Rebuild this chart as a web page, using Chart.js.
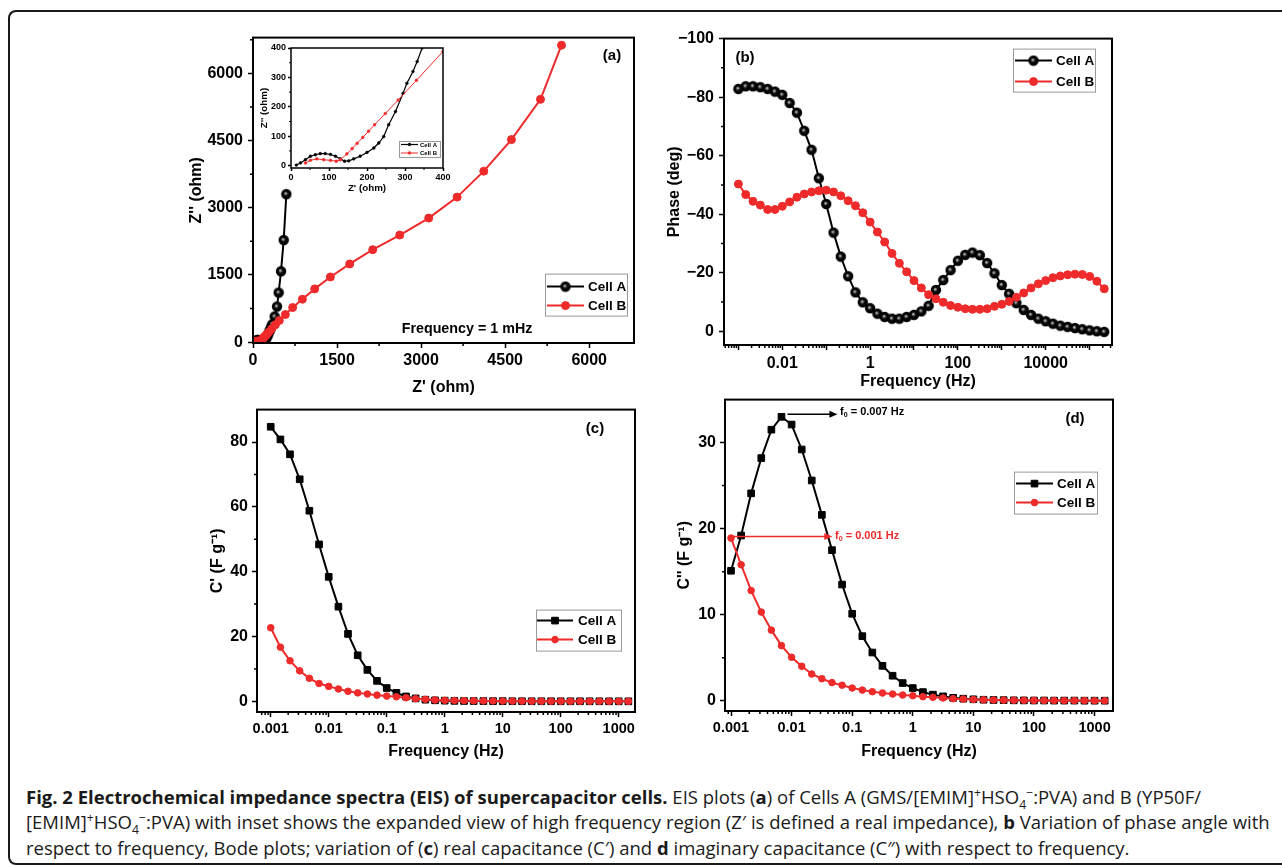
<!DOCTYPE html>
<html>
<head>
<meta charset="utf-8">
<script src="https://cdn.jsdelivr.net/npm/chart.js@4.4.1/dist/chart.umd.min.js"></script>
<style>
html, body { margin: 0; padding: 0; background: #fff; width: 1282px; height: 866px; overflow: hidden; }
canvas { position: absolute; }
#frame { position: absolute; left: 8px; top: 10px; width: 1300px; height: 851px; border: 2px solid #1a1a1a; border-right: none; border-radius: 8px 0 0 8px; }
.cap { position: absolute; left: 26px; font-family: 'Open Sans', sans-serif; font-size: 18.5px; line-height: 22px; white-space: nowrap; color: #1a1a1a; }
.cap sup, .cap sub { font-size: 0.66em; line-height: 0; }
</style>
</head>
<body>
<div id="frame"></div>
<canvas id="panelA"></canvas>
<canvas id="inset"></canvas>
<canvas id="panelB"></canvas>
<canvas id="panelC"></canvas>
<canvas id="panelD"></canvas>
<div class="cap" style="top:786px"><b>Fig. 2 Electrochemical impedance spectra (EIS) of supercapacitor cells.</b> EIS plots (<b>a</b>) of Cells A (GMS/[EMIM]<sup>+</sup>HSO<sub>4</sub><sup>−</sup>:PVA) and B (YP50F/</div>
<div class="cap" style="top:811px">[EMIM]<sup>+</sup>HSO<sub>4</sub><sup>−</sup>:PVA) with inset shows the expanded view of high frequency region (Z′ is defined a real impedance), <b>b</b> Variation of phase angle with</div>
<div class="cap" style="top:837px">respect to frequency, Bode plots; variation of (<b>c</b>) real capacitance (C′) and <b>d</b> imaginary capacitance (C″) with respect to frequency.</div>
<script>
/* global Chart */
// Nyquist data (ohm)
const zReA = [14, 25, 38, 51, 64, 77, 90, 104, 117, 130, 141, 152, 165, 182, 200, 218, 231, 244, 257, 275, 295, 305, 321, 332, 345, 387, 429, 458, 500, 548, 595]
const zImA = [2, 9, 20, 32, 37, 41, 41, 38, 32, 23, 15, 16, 23, 32, 45, 60, 77, 99, 139, 184, 246, 280, 320, 354, 400, 572, 795, 1106, 1582, 2280, 3304]
const zReB = [38, 51, 68, 86, 104, 119, 130, 147, 161, 174, 189, 204, 220, 248, 282, 330, 400, 470, 577, 708, 881, 1101, 1381, 1726, 2137, 2619, 3137, 3643, 4119, 4613, 5131, 5506]
const zImB = [9, 18, 23, 20, 18, 15, 20, 40, 58, 76, 96, 117, 139, 177, 223, 290, 388, 483, 616, 772, 958, 1188, 1455, 1745, 2064, 2391, 2770, 3238, 3817, 4522, 5421, 6631]

// frequency (Hz)
const freq = [0.001, 0.00147, 0.00215, 0.00316, 0.00464, 0.00681, 0.01, 0.0147, 0.0215, 0.0316, 0.0464, 0.0681,
  0.1, 0.147, 0.215, 0.316, 0.464, 0.681, 1, 1.47, 2.15, 3.16, 4.64, 6.81, 10, 14.7, 21.5, 31.6, 46.4, 68.1,
  100, 147, 215, 316, 464, 681, 1000, 1468, 2154, 3162, 4642, 6813, 10000, 14678, 21544, 31623, 46416, 68129,
  100000, 146780, 215443]

// phase (deg)
const phaseA = [-82.8, -83.7, -83.7, -83.4, -82.8, -81.9, -80.8, -78, -74.7, -68.5, -62, -52.3, -43.5, -33.7, -25.5,
  -18.8, -13.3, -9.9, -7.9, -6, -4.9, -4.3, -4.3, -4.9, -5.6, -6.8, -8.7, -14.1, -17.5, -20.9, -24.1, -26.1, -26.9,
  -26, -23.3, -19.8, -15.8, -12.8, -9.6, -7.3, -5.6, -4.3, -3.4, -2.6, -1.9, -1.5, -1.1, -0.7, -0.3, 0, 0.2]
const phaseB = [-50.3, -46.7, -44.4, -43.1, -41.6, -41.6, -42.7, -44.2, -45.8, -46.9, -47.6, -48.0, -48.2, -47.6, -46.3,
  -44.6, -42.9, -40.5, -37.3, -33.9, -30.5, -26.6, -23.2, -20.3, -17.3, -14.8, -12.5, -11.1, -9.9, -8.8, -8.2, -7.7,
  -7.5, -7.5, -7.7, -8.5, -9.2, -10.2, -11.6, -13.1, -14.8, -16.2, -17.3, -18.3, -18.9, -19.3, -19.5, -19.4, -18.7,
  -17.1, -14.5]

// capacitance (F/g), first 38 frequencies
const realCapA = [84.7, 80.8, 76.2, 68.5, 58.8, 48.4, 38.4, 29.2, 20.8, 14.2, 9.7, 6.3, 4.1, 2.6, 1.5, 0.9, 0.5,
  0.3, 0.2, 0.15, 0.1, 0.08, 0.06, 0.05, 0.04, 0.03, 0.03, 0.02, 0.02, 0.02, 0.01, 0.01, 0.01, 0.01, 0.01, 0, 0, 0]
const realCapB = [22.7, 16.7, 12.5, 9.4, 7.1, 5.5, 4.6, 3.8, 3.1, 2.6, 2.25, 1.9, 1.6, 1.4, 1.1, 0.8, 0.6, 0.4,
  0.3, 0.25, 0.2, 0.15, 0.12, 0.1, 0.08, 0.07, 0.06, 0.05, 0.04, 0.03, 0.03, 0.02, 0.02, 0.02, 0.01, 0.01, 0.01, 0.01]
const imagCapA = [15.1, 19.2, 24.1, 28.2, 31.5, 33.0, 32.1, 29.2, 25.6, 21.6, 17.5, 13.5, 10.1, 7.5, 5.6, 4.05, 2.9,
  2.05, 1.47, 1.0, 0.7, 0.5, 0.33, 0.23, 0.16, 0.11, 0.08, 0.06, 0.04, 0.03, 0.02, 0.02, 0.01, 0.01, 0.01, 0, 0, 0]
const imagCapB = [18.9, 15.8, 12.8, 10.3, 8.2, 6.4, 5.05, 4.0, 3.1, 2.55, 2.1, 1.8, 1.47, 1.23, 1.04, 0.89, 0.77, 0.66,
  0.58, 0.46, 0.39, 0.31, 0.23, 0.18, 0.14, 0.1, 0.08, 0.06, 0.05, 0.04, 0.03, 0.02, 0.02, 0.01, 0.01, 0.01, 0, 0]

// tick labels
const zTicks = [0, 1500, 3000, 4500, 6000]
const insetTicks = [0, 100, 200, 300, 400]
const phaseTicks = [-100, -80, -60, -40, -20, 0]
const phaseFreqTicks = [0.001, 0.01, 0.1, 1, 10, 100, 1000, 10000, 100000]
const phaseFreqLabels = [0.01, 1, 100, 10000]
const capFreqTicks = [0.001, 0.01, 0.1, 1, 10, 100, 1000]
const realCapTicks = [0, 20, 40, 60, 80]
const imagCapTicks = [0, 10, 20, 30]

const FONT = "'Liberation Sans', Arial, sans-serif"
Chart.defaults.font.family = FONT
Chart.defaults.color = '#000'
const RED = '#ee2a2a'
const PAD_T = 12
const PAD_R = 16

// black shaded ball marker
function ball (r) {
  const c = document.createElement('canvas')
  const s = Math.ceil(r * 2 + 2)
  c.width = c.height = s
  const g = c.getContext('2d')
  const m = s / 2
  const grad = g.createRadialGradient(m - r * 0.2, m - r * 0.2, 0, m, m, r)
  grad.addColorStop(0, '#f2f2f2')
  grad.addColorStop(0.22, '#7a7a7a')
  grad.addColorStop(0.5, '#0a0a0a')
  grad.addColorStop(1, '#000000')
  g.fillStyle = grad
  g.beginPath()
  g.arc(m, m, r, 0, Math.PI * 2)
  g.fill()
  g.lineWidth = 1.2
  g.strokeStyle = '#000'
  g.stroke()
  return c
}

function minorLog (min, max) {
  const out = []
  for (let k = -5; k <= 6; k++) {
    for (let m = 2; m <= 9; m++) {
      const v = m * Math.pow(10, k)
      if (v > min && v < max) out.push(v)
    }
  }
  return out
}

const deco = {
  id: 'deco',
  afterDraw (chart, args, o) {
    if (!o || !o.on) return
    const { ctx, chartArea: a } = chart
    const xs = chart.scales.x
    const ys = chart.scales.y
    ctx.save()
    // box
    ctx.strokeStyle = '#000'
    ctx.lineWidth = o.frame
    ctx.strokeRect(a.left, a.top, a.right - a.left, a.bottom - a.top)
    // minor ticks
    ctx.lineWidth = o.tickW
    ctx.beginPath()
    o.minorX.forEach(v => {
      const p = xs.getPixelForValue(v)
      if (p > a.left + 1 && p < a.right - 1) { ctx.moveTo(p, a.bottom); ctx.lineTo(p, a.bottom + o.minorLen) }
    })
    o.minorY.forEach(v => {
      const p = ys.getPixelForValue(v)
      if (p > a.top + 1 && p < a.bottom - 1) { ctx.moveTo(a.left, p); ctx.lineTo(a.left - o.minorLen, p) }
    })
    ctx.stroke()
    // arrows
    o.arrows.forEach(ar => {
      const x1 = xs.getPixelForValue(ar.x0) + ar.dx
      const y1 = ys.getPixelForValue(ar.y0)
      const x2 = xs.getPixelForValue(ar.x1)
      ctx.strokeStyle = ar.color
      ctx.fillStyle = ar.color
      ctx.lineWidth = 1.5
      ctx.beginPath()
      ctx.moveTo(x1, y1)
      ctx.lineTo(x2 - 4, y1)
      ctx.stroke()
      ctx.beginPath()
      ctx.moveTo(x2, y1)
      ctx.lineTo(x2 - 8, y1 - 3.5)
      ctx.lineTo(x2 - 8, y1 + 3.5)
      ctx.closePath()
      ctx.fill()
    })
    // texts
    o.texts.forEach(t => {
      ctx.fillStyle = t.color
      ctx.textBaseline = 'middle'
      ctx.textAlign = t.align
      let x = a.left + t.x
      const y = a.top + t.y
      if (t.sub) {
        ctx.textAlign = 'left'
        ctx.font = 'bold ' + t.size + 'px ' + FONT
        ctx.fillText(t.t, x, y)
        x += ctx.measureText(t.t).width
        ctx.font = 'bold ' + (t.size * 0.65) + 'px ' + FONT
        ctx.fillText(t.sub, x, y + t.size * 0.3)
        x += ctx.measureText(t.sub).width
        ctx.font = 'bold ' + t.size + 'px ' + FONT
        ctx.fillText(t.rest, x, y)
      } else {
        ctx.font = 'bold ' + t.size + 'px ' + FONT
        ctx.fillText(t.t, x, y)
      }
    })
    // legend
    const L = o.legend
    const x0 = a.left + L.x
    const y0 = a.top + L.y
    ctx.lineWidth = 1
    ctx.strokeStyle = '#9a9a9a'
    ctx.strokeRect(x0 + 0.5, y0 + 0.5, L.w, L.h)
    chart.data.datasets.forEach((ds, i) => {
      const yy = y0 + L.rows[i]
      ctx.strokeStyle = ds.borderColor
      ctx.lineWidth = ds.borderWidth
      ctx.beginPath()
      ctx.moveTo(x0 + L.l0, yy)
      ctx.lineTo(x0 + L.l1, yy)
      ctx.stroke()
      ctx.fillStyle = ds.pointBackgroundColor
      ctx.strokeStyle = ds.pointBorderColor
      ctx.lineWidth = ds.pointBorderWidth
      Chart.helpers.drawPoint(ctx, { pointStyle: ds.pointStyle, radius: ds.pointRadius, rotation: 0, borderWidth: ds.pointBorderWidth },
        x0 + (L.l0 + L.l1) / 2, yy)
      ctx.fillStyle = '#000'
      ctx.font = 'bold ' + L.size + 'px ' + FONT
      ctx.textAlign = 'left'
      ctx.textBaseline = 'middle'
      ctx.fillText(ds.label, x0 + L.tx, yy + 0.5)
    })
    ctx.restore()
  }
}
Chart.register(deco)

function axis (o) {
  return {
    type: o.type || 'linear',
    min: o.min,
    max: o.max,
    reverse: !!o.reverse,
    afterBuildTicks: s => { s.ticks = o.ticks.map(v => ({ value: v })) },
    afterFit: s => { if (s.isHorizontal()) s.height = o.size; else s.width = o.size },
    border: { display: false },
    grid: { display: true, drawOnChartArea: false, drawTicks: true, tickLength: o.tl || 5, tickWidth: 1.5, tickColor: '#000' },
    ticks: { autoSkip: false, maxRotation: 0, padding: o.pad, color: '#000', font: { size: o.fs, weight: 'bold' }, callback: o.label || (v => String(v)) },
    title: { display: true, text: o.title, color: '#000', font: { size: o.tfs || 16, weight: 'bold' }, padding: o.tpad }
  }
}

function pts (xs, ys) {
  return ys.map((y, i) => ({ x: xs[i], y }))
}

function makeChart (id, box, yW, xH, datasets, scales, opts) {
  const cv = document.getElementById(id)
  cv.style.left = (box.l - yW) + 'px'
  cv.style.top = (box.t - PAD_T) + 'px'
  cv.width = yW + box.r - box.l + PAD_R
  cv.height = PAD_T + box.b - box.t + xH
  return new Chart(cv, {
    type: 'line',
    data: { datasets },
    options: {
      responsive: false,
      animation: false,
      devicePixelRatio: 1,
      layout: { padding: { top: PAD_T, right: PAD_R, left: 0, bottom: 0 } },
      plugins: { legend: { display: false }, tooltip: { enabled: false }, deco: Object.assign({ on: true, frame: 2, tickW: 1.5, minorLen: 3, arrows: [], texts: [] }, opts) },
      scales
    }
  })
}

const ballA = ball(4.6)
const sA = { borderColor: '#000', borderWidth: 2, pointStyle: ballA, pointRadius: 4.6, pointBackgroundColor: '#000', pointBorderColor: '#000', pointBorderWidth: 1, tension: 0, order: 1 }
const sB = { borderColor: RED, borderWidth: 2, pointStyle: 'circle', pointRadius: 4, pointBackgroundColor: RED, pointBorderColor: RED, pointBorderWidth: 1, tension: 0, order: 0 }
const sqA = { borderColor: '#000', borderWidth: 2, pointStyle: 'rect', pointRadius: 4.7, pointBackgroundColor: '#000', pointBorderColor: '#000', pointBorderWidth: 1, tension: 0, order: 1 }
const ciB = { borderColor: RED, borderWidth: 2, pointStyle: 'circle', pointRadius: 3.3, pointBackgroundColor: RED, pointBorderColor: RED, pointBorderWidth: 1, tension: 0, order: 0 }
const minus = v => (v < 0 ? '−' + (-v) : String(v))

// (a) Nyquist
makeChart('panelA', { l: 253, t: 35, r: 634, b: 343 }, 75, 58,
  [
    Object.assign({ label: 'Cell A', data: pts(zReA, zImA) }, sA),
    Object.assign({ label: 'Cell B', data: pts(zReB, zImB) }, sB)
  ],
  {
    x: axis({ min: 0, max: 6800, ticks: zTicks, size: 58, fs: 16, pad: 3, title: "Z' (ohm)", tpad: { top: 4, bottom: 4 } }),
    y: axis({ min: -20, max: 6800, ticks: zTicks, size: 75, fs: 16, pad: 5, title: "Z'' (ohm)", tpad: { top: 9.4, bottom: 4 } })
  },
  {
    minorX: [750, 2250, 3750, 5250],
    minorY: [750, 2250, 3750, 5250, 6750],
    texts: [
      { t: '(a)', x: 359, y: 18, size: 15, color: '#000', align: 'center' },
      { t: 'Frequency = 1 mHz', x: 214, y: 291, size: 14.3, color: '#000', align: 'center' }
    ],
    legend: { x: 292, y: 236, w: 82, h: 42, rows: [13, 32], l0: 2, l1: 39, tx: 43, size: 13.5 }
  })

// inset
makeChart('inset', { l: 291, t: 48, r: 443, b: 168 }, 40, 28,
  [
    { label: 'Cell A', data: pts(zReA, zImA), borderColor: '#000', borderWidth: 1.2, pointStyle: 'circle', pointRadius: 1.4, pointBackgroundColor: '#000', pointBorderColor: '#000', pointBorderWidth: 0.5, tension: 0, order: 1 },
    { label: 'Cell B', data: pts(zReB, zImB), borderColor: RED, borderWidth: 1, pointStyle: 'circle', pointRadius: 1.4, pointBackgroundColor: RED, pointBorderColor: RED, pointBorderWidth: 0.5, tension: 0, order: 0 }
  ],
  {
    x: axis({ min: 0, max: 400, ticks: insetTicks, size: 28, fs: 9, tl: 3, pad: 1, title: "Z' (ohm)", tfs: 9.8, tpad: { top: 2, bottom: 2 } }),
    y: axis({ min: -8, max: 400, ticks: insetTicks, size: 40, fs: 9, tl: 3, pad: 2, title: "Z'' (ohm)", tfs: 9.8, tpad: { top: 7, bottom: 2 } })
  },
  {
    frame: 1.5,
    tickW: 1,
    minorLen: 2,
    minorX: [50, 150, 250, 350],
    minorY: [50, 150, 250, 350],
    legend: { x: 108, y: 93, w: 41, h: 16, rows: [3.5, 12], l0: 2, l1: 19, tx: 21, size: 6 }
  })

// (b) Bode phase
makeChart('panelB', { l: 724, t: 36, r: 1112, b: 345 }, 70, 50,
  [
    Object.assign({ label: 'Cell A', data: pts(freq, phaseA) }, sA),
    Object.assign({ label: 'Cell B', data: pts(freq, phaseB) }, sB)
  ],
  {
    x: axis({ type: 'logarithmic', min: 4.7e-4, max: 3.24e5, ticks: phaseFreqTicks, size: 50, fs: 16, pad: 4, title: 'Frequency (Hz)', tpad: { top: 4, bottom: 4 }, label: v => (phaseFreqLabels.includes(v) ? String(v) : '') }),
    y: axis({ min: -100, max: 4.7, reverse: true, ticks: phaseTicks, size: 70, fs: 16, pad: 5, title: 'Phase (deg)', tpad: { top: 11.4, bottom: 4 }, label: minus })
  },
  {
    minorX: minorLog(4.7e-4, 3.24e5),
    minorY: [-90, -70, -50, -30, -10],
    texts: [{ t: '(b)', x: 21, y: 19, size: 15, color: '#000', align: 'center' }],
    legend: { x: 289, y: 10, w: 82, h: 43, rows: [12, 33], l0: 2, l1: 39, tx: 43, size: 13.5 }
  })

const capFreq = freq.slice(0, 38)

// (c) real capacitance
makeChart('panelC', { l: 257, t: 408, r: 635, b: 712 }, 75, 53,
  [
    Object.assign({ label: 'Cell A', data: pts(capFreq, realCapA) }, sqA),
    Object.assign({ label: 'Cell B', data: pts(capFreq, realCapB) }, ciB)
  ],
  {
    x: axis({ type: 'logarithmic', min: 5.8e-4, max: 1910, ticks: capFreqTicks, size: 53, fs: 14.5, pad: 3, title: 'Frequency (Hz)', tpad: { top: 4, bottom: 4 } }),
    y: axis({ min: -3.3, max: 90, ticks: realCapTicks, size: 75, fs: 16, pad: 4, title: "C' (F g⁻¹)", tpad: { top: 26.4, bottom: 4 } })
  },
  {
    minorX: minorLog(5.8e-4, 1910),
    minorY: [10, 30, 50, 70],
    texts: [{ t: '(c)', x: 338, y: 19, size: 15, color: '#000', align: 'center' }],
    legend: { x: 279, y: 200, w: 85, h: 41, rows: [11, 30], l0: 1, l1: 37, tx: 42, size: 13.5 }
  })

// (d) imaginary capacitance
makeChart('panelD', { l: 725, t: 398, r: 1113, b: 711 }, 70, 54,
  [
    Object.assign({ label: 'Cell A', data: pts(capFreq, imagCapA) }, sqA),
    Object.assign({ label: 'Cell B', data: pts(capFreq, imagCapB) }, ciB)
  ],
  {
    x: axis({ type: 'logarithmic', min: 7.96e-4, max: 2014, ticks: capFreqTicks, size: 54, fs: 14.5, pad: 3, title: 'Frequency (Hz)', tpad: { top: 4, bottom: 4 } }),
    y: axis({ min: -1.2, max: 35, ticks: imagCapTicks, size: 70, fs: 16, pad: 4, title: "C'' (F g⁻¹)", tpad: { top: 20.4, bottom: 4 } })
  },
  {
    minorX: minorLog(7.96e-4, 2014),
    minorY: [5, 15, 25],
    arrows: [
      { x0: 0.00681, y0: 33.3, dx: 6, x1: 0.057, color: '#000' },
      { x0: 0.001, y0: 19.1, dx: 0, x1: 0.047, color: RED }
    ],
    texts: [
      { t: '(d)', x: 350, y: 19, size: 15, color: '#000', align: 'center' },
      { t: 'f', sub: '0', rest: ' = 0.007 Hz', x: 115, y: 12, size: 11, color: '#000', align: 'left' },
      { t: 'f', sub: '0', rest: ' = 0.001 Hz', x: 110, y: 136, size: 11, color: RED, align: 'left' }
    ],
    legend: { x: 289, y: 72, w: 83, h: 42, rows: [12, 31], l0: 2, l1: 39, tx: 43, size: 13.5 }
  })
</script>
</body>
</html>
